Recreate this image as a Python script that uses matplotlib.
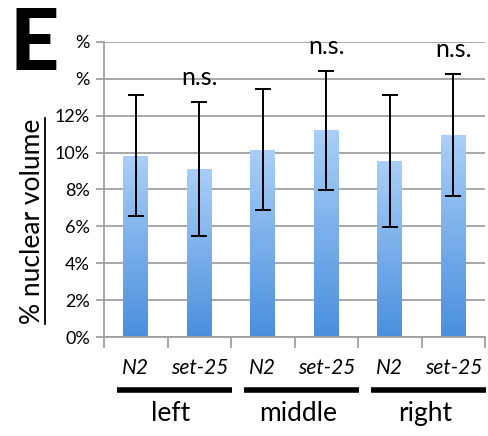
import numpy as np
import matplotlib

matplotlib.use("Agg")
import matplotlib.pyplot as plt
from matplotlib.colors import LinearSegmentedColormap
from matplotlib.patches import Rectangle
from matplotlib.transforms import blended_transform_factory

plt.rcParams["font.family"] = ["Lato", "DejaVu Sans"]

# nuclear volume fraction (%) per region and strain
strains = ["N2", "set-25", "N2", "set-25", "N2", "set-25"]
regions = ["left", "middle", "right"]
mean_pct = [9.83, 9.1, 10.15, 11.2, 9.55, 10.94]
err_pct = [3.27, 3.65, 3.27, 3.22, 3.58, 3.31]
ns_marks = ["", "n.s.", "", "n.s.", "", "n.s."]
ytick_vals = [0, 2, 4, 6, 8, 10, 12, 14, 16]
ytick_labels = ["0%", "2%", "4%", "6%", "8%", "10%", "12%", "%", "%"]

grey = "#a0a0a0"
bar_cmap = LinearSegmentedColormap.from_list("barfade", ["#4a8fdd", "#aacff8"])

fig = plt.figure(figsize=(4.89, 4.36), dpi=100)
ax = fig.add_axes([0.2127, 0.227, 0.7793, 0.677])

x = np.arange(len(strains))
w = 0.39
ax.set_xlim(-0.5, len(strains) - 0.5)
ax.set_ylim(0, 16)

# gradient fill clipped to each bar
grad = np.linspace(0, 1, 256).reshape(-1, 1)
for xi, m in zip(x, mean_pct):
    rect = Rectangle((xi - w / 2, 0), w, m, facecolor="none", edgecolor="none")
    ax.add_patch(rect)
    im = ax.imshow(grad, cmap=bar_cmap, origin="lower", aspect="auto",
                   extent=(xi - w / 2, xi + w / 2, 0, m), zorder=2)
    im.set_clip_path(rect)

ax.errorbar(x, mean_pct, yerr=err_pct, fmt="none", ecolor="black",
            elinewidth=1.4, capsize=5.5, capthick=1.4, zorder=3)

for xi, m, e, lab in zip(x, mean_pct, err_pct, ns_marks):
    if lab:
        ax.text(xi, m + e + 0.7, lab, ha="center", va="bottom", fontsize=18)

ax.set_yticks(ytick_vals)
ax.set_yticklabels(ytick_labels, fontsize=13)
ax.yaxis.grid(True, color=grey, lw=1.3)
ax.set_axisbelow(True)

ax.set_xticks(np.arange(-0.5, len(strains), 1.0))
ax.set_xticklabels([])
ax.tick_params(axis="x", length=8, color=grey, width=1.3)
ax.tick_params(axis="y", length=6, color=grey, width=1.3, pad=4)
for s in ["top", "right"]:
    ax.spines[s].set_visible(False)
for s in ["left", "bottom"]:
    ax.spines[s].set_color(grey)
    ax.spines[s].set_linewidth(1.3)

# strain names, group bars and region names below the axis
tr = blended_transform_factory(ax.transData, fig.transFigure)
for xi, s in zip(x, strains):
    ax.text(xi, 1 - 368 / 436, s, transform=tr, ha="center", va="center",
            fontsize=15, style="italic")
for g, name in enumerate(regions):
    ax.plot([2 * g - 0.3, 2 * g + 1.52], [1 - 390 / 436] * 2, transform=tr,
            color="black", lw=4, clip_on=False, solid_capstyle="butt")
    ax.text(2 * g + 0.55, 1 - 413 / 436, name, transform=tr, ha="center",
            va="center", fontsize=19)

fig.text(9 / 489, 1 - 70 / 436, "E", fontsize=62, fontweight="black",
         ha="left", va="baseline")

ylab = fig.text(33 / 489, 1 - 221 / 436, "% nuclear volume", rotation=90,
                fontsize=19, ha="center", va="center")
fig.canvas.draw()
bb = ylab.get_window_extent().transformed(fig.transFigure.inverted())
fig.add_artist(plt.Line2D([bb.x1 - 0.001] * 2, [bb.y0, bb.y1], color="black",
                          lw=1.3, transform=fig.transFigure))

fig.savefig("out.png", dpi=100)
